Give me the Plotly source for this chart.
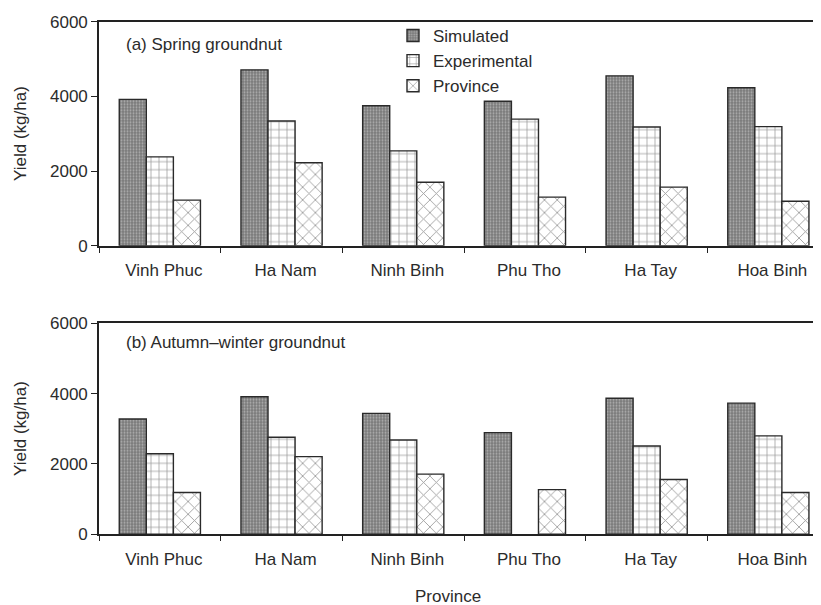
import plotly.graph_objects as go

provinces = ["Vinh Phuc", "Ha Nam", "Ninh Binh", "Phu Tho", "Ha Tay", "Hoa Binh"]

spring_simulated = [3920, 4710, 3750, 3870, 4550, 4230]
spring_experimental = [2380, 3340, 2540, 3390, 3180, 3190]
spring_province = [1220, 2220, 1700, 1300, 1570, 1190]

autumn_simulated = [3280, 3910, 3440, 2890, 3870, 3730]
autumn_experimental = [2290, 2760, 2680, None, 2510, 2800]
autumn_province = [1190, 2210, 1710, 1270, 1560, 1190]

y_ticks = [0, 2000, 4000, 6000]

FONT = "Liberation Sans, Arial, sans-serif"
TXT = "#2b2b2b"
OFF = 8                      # page body margin
W, H = 821 - OFF, 605 - OFF  # figure size
FS = 17

def px(x):
    return (x - OFF) / W

def py(y):
    return 1 - (y - OFF) / H

styles = {
    "Simulated": dict(color="#7c7c7c",
                      pattern=dict(shape=".", fgcolor="#e6e6e6", bgcolor="#7a7a7a",
                                   size=3, solidity=0.35)),
    "Experimental": dict(color="white",
                         pattern=dict(shape="+", fgcolor="#333333", bgcolor="white",
                                      size=8, solidity=0.18)),
    "Province": dict(color="white",
                     pattern=dict(shape="x", fgcolor="#333333", bgcolor="white",
                                  size=9, solidity=0.18)),
}

fig = go.Figure()

series_top = [("Simulated", spring_simulated), ("Experimental", spring_experimental),
              ("Province", spring_province)]
series_bot = [("Simulated", autumn_simulated), ("Experimental", autumn_experimental),
              ("Province", autumn_province)]

for name, vals in series_top:
    st = styles[name]
    fig.add_trace(go.Bar(x=provinces, y=vals, name=name, legendgroup=name,
                         marker=dict(color=st["color"], pattern=st["pattern"],
                                     line=dict(color="#2a2a2a", width=1.4)),
                         xaxis="x", yaxis="y", showlegend=True))
for name, vals in series_bot:
    st = styles[name]
    fig.add_trace(go.Bar(x=provinces, y=vals, name=name, legendgroup=name,
                         marker=dict(color=st["color"], pattern=st["pattern"],
                                     line=dict(color="#2a2a2a", width=1.4)),
                         xaxis="x2", yaxis="y2", showlegend=False))

cat_w = 121.7
x_range = [-0.5, -0.5 + (821 - 99) / cat_w]

def ydom(top_px, bot_px):
    return [py(bot_px), py(top_px)]

common_x = dict(
    type="category", range=x_range, showline=True, linecolor="#222", linewidth=1.6,
    mirror=True, ticks="outside", tickson="boundaries", ticklen=5, tickcolor="#222",
    tickwidth=1.2, showgrid=False, zeroline=False,
    tickfont=dict(family=FONT, size=FS, color=TXT), ticklabelstandoff=8,
    ticklabelshift=4,
    domain=[px(99), 1], automargin=False,
)
common_y = dict(
    range=[0, 6000], tickvals=y_ticks, showline=True, linecolor="#222", linewidth=1.6,
    ticks="outside", ticklen=6, tickcolor="#222", tickwidth=1.2, showgrid=False,
    zeroline=False, tickfont=dict(family=FONT, size=FS, color=TXT), automargin=False,
)

fig.update_layout(
    width=W, height=H,
    margin=dict(l=0, r=0, t=0, b=0, autoexpand=False),
    paper_bgcolor="white", plot_bgcolor="white",
    barmode="group", bargap=0.333, bargroupgap=0,
    xaxis=dict(common_x, anchor="y"),
    yaxis=dict(common_y, anchor="x", domain=ydom(21.7, 245.7)),
    xaxis2=dict(common_x, anchor="y2"),
    yaxis2=dict(common_y, anchor="x2", domain=ydom(323.3, 534.3)),
    legend=dict(x=px(393), y=py(18), xanchor="left", yanchor="top",
                bgcolor="rgba(0,0,0,0)", font=dict(family=FONT, size=FS, color=TXT),
                traceorder="normal", tracegroupgap=0, itemwidth=30),
    showlegend=True,
    annotations=[
        dict(text="(a) Spring groundnut", x=px(124), y=py(44), xref="paper", yref="paper",
             xanchor="left", yanchor="middle", showarrow=False,
             font=dict(family=FONT, size=FS, color=TXT)),
        dict(text="(b) Autumn\u2013winter groundnut", x=px(124), y=py(342),
             xref="paper", yref="paper", xanchor="left", yanchor="middle", showarrow=False,
             font=dict(family=FONT, size=FS, color=TXT)),
        dict(text="Yield (kg/ha)", x=px(20), y=py(134), xref="paper", yref="paper",
             textangle=-90, showarrow=False, xanchor="center", yanchor="middle",
             font=dict(family=FONT, size=FS, color=TXT)),
        dict(text="Yield (kg/ha)", x=px(20), y=py(429), xref="paper", yref="paper",
             textangle=-90, showarrow=False, xanchor="center", yanchor="middle",
             font=dict(family=FONT, size=FS, color=TXT)),
        dict(text="Province", x=px(448), y=py(596), xref="paper", yref="paper",
             showarrow=False, xanchor="center", yanchor="middle",
             font=dict(family=FONT, size=FS, color=TXT)),
    ],
)

fig.write_html("out.html")
